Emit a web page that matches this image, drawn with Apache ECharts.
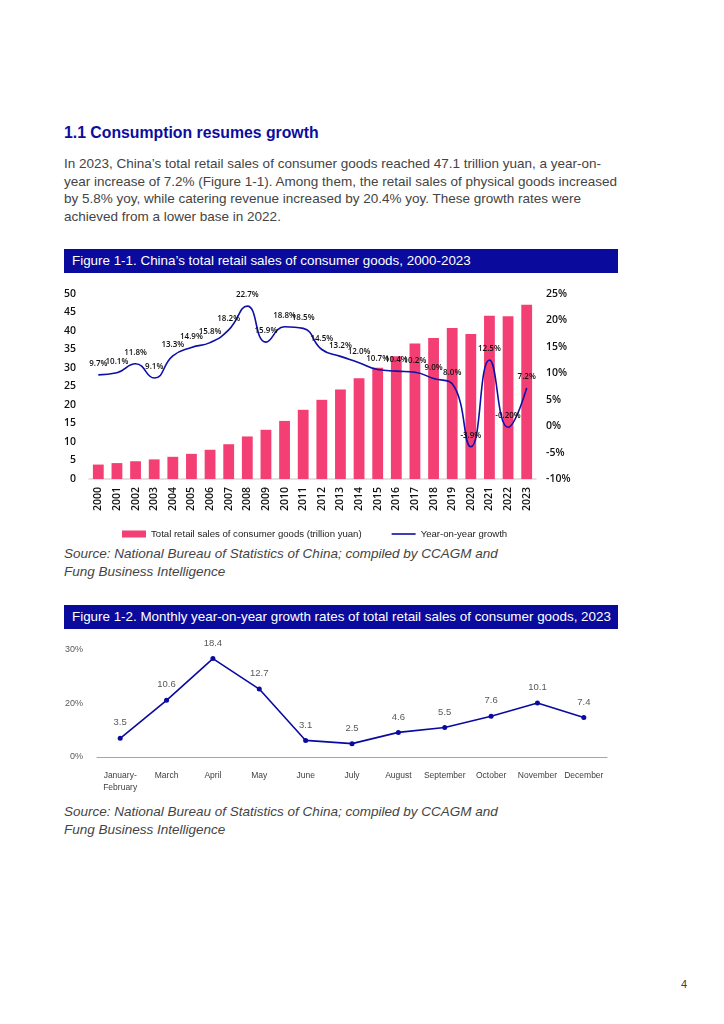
<!DOCTYPE html>
<html><head><meta charset="utf-8">
<script src="https://cdn.jsdelivr.net/npm/echarts@6/dist/echarts.min.js"></script>
<style>
body{margin:0;width:724px;height:1024px;background:#fff;position:relative;font-family:"Liberation Sans",Arial,sans-serif;overflow:hidden}
.abs{position:absolute}
h1{position:absolute;left:64px;top:124px;margin:0;font-size:15.8px;font-weight:bold;color:#0C0CA0;white-space:nowrap}
.para{left:64px;top:155px;font-size:13.5px;line-height:17.6px;color:#444;white-space:nowrap}
.fig{left:64px;width:554px;height:24px;background:#0A0A9C;color:#fff;font-size:13.4px;line-height:24px;padding-left:8px;box-sizing:border-box;white-space:nowrap}
.src{left:64px;font-size:13.5px;line-height:18px;font-style:italic;color:#444;white-space:nowrap}
</style></head>
<body>
<h1>1.1 Consumption resumes growth</h1>
<div class="abs para">In 2023, China’s total retail sales of consumer goods reached 47.1 trillion yuan, a year-on-<br>year increase of 7.2% (Figure 1-1). Among them, the retail sales of physical goods increased<br>by 5.8% yoy, while catering revenue increased by 20.4% yoy. These growth rates were<br>achieved from a lower base in 2022.</div>
<div class="abs fig" style="top:249px">Figure 1-1. China’s total retail sales of consumer goods, 2000-2023</div>
<div id="c1" class="abs" style="left:0;top:280px;width:724px;height:260px"></div>
<div class="abs src" style="top:545px">Source: National Bureau of Statistics of China; compiled by CCAGM and<br>Fung Business Intelligence</div>
<div class="abs fig" style="top:605px">Figure 1-2. Monthly year-on-year growth rates of total retail sales of consumer goods, 2023</div>
<div id="c2" class="abs" style="left:0;top:640px;width:724px;height:160px"></div>
<div class="abs src" style="top:803px">Source: National Bureau of Statistics of China; compiled by CCAGM and<br>Fung Business Intelligence</div>
<div class="abs" style="left:681px;top:978px;font-size:11px;color:#404040">4</div>
<script>
const years = ['2000','2001','2002','2003','2004','2005','2006','2007','2008','2009','2010','2011','2012','2013','2014','2015','2016','2017','2018','2019','2020','2021','2022','2023'];
const retailSales = [3.9,4.3,4.8,5.3,6.0,6.8,7.9,9.4,11.5,13.3,15.7,18.7,21.4,24.2,27.2,30.1,33.2,36.6,38.1,40.8,39.2,44.1,44.0,47.1];
const yoyGrowth = [9.7,10.1,11.8,9.1,13.3,14.9,15.8,18.2,22.7,15.9,18.8,18.5,14.5,13.2,12.0,10.7,10.4,10.2,9.0,8.0,-3.9,12.5,-0.2,7.2];
const months = ['January-\nFebruary','March','April','May','June','July','August','September','October','November','December'];
const monthlyGrowth = [3.5,10.6,18.4,12.7,3.1,2.5,4.6,5.5,7.6,10.1,7.4];
const monthlyTickLabels = ['0%','20%','30%'];

const f1 = '"Open Sans","Noto Sans",sans-serif';
const c1 = echarts.init(document.getElementById('c1'));
c1.setOption({
  animation:false,
  textStyle:{fontFamily:f1},
  grid:{left:89,right:188,top:14,bottom:61},
  legend:{left:117,top:244,itemWidth:24,itemHeight:7,itemGap:30,
    textStyle:{fontSize:9.6,color:'#222',fontFamily:'"Liberation Sans",Arial,sans-serif'},
    data:[{name:'Total retail sales of consumer goods (trillion yuan)',icon:'rect'},
          {name:'Year-on-year growth',icon:'path://M0,0H30V2H0Z'}]},
  xAxis:{type:'category',data:years,axisTick:{show:false},
    axisLine:{lineStyle:{color:'#d9d9d9',width:1.5}},
    axisLabel:{rotate:90,fontSize:10.5,fontWeight:600,color:'#111',margin:8}},
  yAxis:[
    {type:'value',min:0,max:50,interval:5,splitLine:{show:false},axisLine:{show:false},
      axisLabel:{fontSize:10.5,fontWeight:600,color:'#111',margin:13}},
    {type:'value',min:-10,max:25,interval:5,splitLine:{show:false},axisLine:{show:false},
      axisLabel:{fontSize:10.5,fontWeight:600,color:'#111',margin:10,formatter:'{value}%'}}
  ],
  series:[
    {name:'Total retail sales of consumer goods (trillion yuan)',type:'bar',data:retailSales,
      barCategoryGap:'42%',itemStyle:{color:'#F43F74'}},
    {name:'Year-on-year growth',type:'line',yAxisIndex:1,data:yoyGrowth,smooth:0.5,
      symbol:'circle',symbolSize:0.1,showSymbol:true,
      lineStyle:{color:'#0E0EA8',width:1.6},itemStyle:{color:'#0E0EA8'},
      label:{show:true,position:'top',distance:7,fontSize:8,fontWeight:600,color:'#111',
        formatter:p=>p.value===-0.2?'-0.20%':p.value.toFixed(1)+'%'}}
  ]
});

const c2 = echarts.init(document.getElementById('c2'));
c2.setOption({
  animation:false,
  textStyle:{fontFamily:'"Liberation Sans",Arial,sans-serif'},
  grid:{left:97,right:117,top:10,bottom:43},
  xAxis:{type:'category',data:months,axisTick:{show:false},
    axisLine:{lineStyle:{color:'#a6a6a6',width:1}},
    axisLabel:{fontSize:8.5,color:'#404040',margin:13,lineHeight:12,interval:0}},
  yAxis:{type:'value',min:0,max:20,interval:10,splitLine:{show:false},axisLine:{show:false},
    axisLabel:{fontSize:9,color:'#595959',margin:14,formatter:(v,i)=>monthlyTickLabels[i]}},
  series:[{type:'line',data:monthlyGrowth,symbol:'circle',symbolSize:5,
    lineStyle:{color:'#0A0AA0',width:1.6},itemStyle:{color:'#0A0AA0'},
    label:{show:true,position:'top',distance:8,fontSize:9.5,color:'#595959'}}]
});
</script>
</body></html>
